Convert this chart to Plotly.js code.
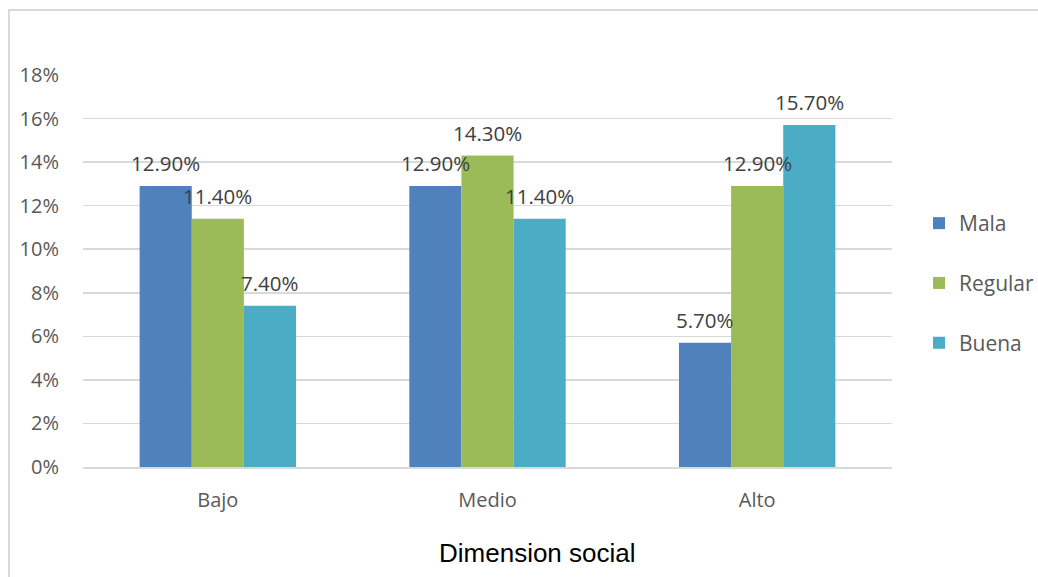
<!DOCTYPE html>
<html>
<head>
<meta charset="utf-8">
<script src="https://cdn.plot.ly/plotly-3.0.1.min.js"></script>
<style>
  html, body { margin: 0; padding: 0; background: #fff; overflow: hidden; }
  #wrap { position: relative; width: 1038px; height: 577px; }
  #chart { position: absolute; left: 0; top: 0; width: 1038px; height: 577px; }
  /* chart frame: left and top edges */
  #frame { position: absolute; left: 8px; top: 9px; right: -10px; bottom: -10px;
           border-left: 2px solid #D9D9D9; border-top: 2px solid #D9D9D9;
           pointer-events: none; }
</style>
</head>
<body>
<div id="wrap">
  <div id="chart"></div>
  <div id="frame"></div>
</div>
<script>
// Dimension social: share of each rating per level
const categories = ['Bajo', 'Medio', 'Alto'];
const seriesNames = ['Mala', 'Regular', 'Buena'];
const mala = [0.129, 0.129, 0.057];
const regular = [0.114, 0.143, 0.129];
const buena = [0.074, 0.114, 0.157];
const yTickVals = [0, 0.02, 0.04, 0.06, 0.08, 0.10, 0.12, 0.14, 0.16, 0.18];
const colors = ['#4F81BD', '#9BBB59', '#4BACC6'];

const W = 1038, H = 577;
const margin = { l: 83, r: 146, t: 75, b: 110, autoexpand: false };
const bargap = 0.42;
const plotW = W - margin.l - margin.r;
const plotH = H - margin.t - margin.b;
const barW = plotW / categories.length * (1 - bargap) / seriesNames.length;

const allSeries = [mala, regular, buena];
const textFont = { family: 'Open Sans, sans-serif', size: 20.5, color: '#404040' };
const tickFont = { family: 'Open Sans, sans-serif', size: 20, color: '#595959' };

const traces = allSeries.map((vals, i) => ({
  type: 'bar',
  name: seriesNames[i],
  x: categories,
  y: vals,
  marker: { color: colors[i], line: { width: 0 } },
  legendgroup: 'g' + i,
  hoverinfo: 'none'
}));

// value labels above each bar
const annotations = [];
allSeries.forEach((vals, i) => {
  vals.forEach((v, j) => {
    annotations.push({
      x: categories[j], y: v, xref: 'x', yref: 'y',
      xshift: (i - 1) * barW, yshift: 23,
      yanchor: 'middle', xanchor: 'center',
      text: (v * 100).toFixed(2) + '%',
      showarrow: false, font: textFont
    });
  });
});

// x axis title
const px = x => (x - margin.l) / plotW;
const py = y => (H - margin.b - y) / plotH;
annotations.push({
  xref: 'paper', yref: 'paper',
  x: px(537), y: py(553),
  xanchor: 'center', yanchor: 'middle',
  text: 'Dimension social', showarrow: false,
  font: { family: 'Liberation Sans, Arial, sans-serif', size: 26, color: '#000' }
});

const layout = {
  width: W, height: H,
  margin: margin,
  paper_bgcolor: 'rgba(0,0,0,0)', plot_bgcolor: 'rgba(0,0,0,0)',
  barmode: 'group', bargap: bargap, bargroupgap: 0,
  font: textFont,
  xaxis: {
    type: 'category',
    showgrid: false, showline: true, linecolor: '#D9D9D9', linewidth: 1.5,
    ticks: '', ticklabelstandoff: 14,
    tickfont: tickFont
  },
  yaxis: {
    range: [0, 0.18], tickvals: yTickVals, tickformat: '.0%',
    showgrid: true, gridcolor: '#D9D9D9', gridwidth: 1.5,
    zeroline: false, showline: false, ticks: '', ticklabelstandoff: 23,
    tickfont: tickFont
  },
  legend: {
    x: px(919), y: py(203), xanchor: 'left', yanchor: 'top',
    traceorder: 'grouped', tracegroupgap: 29.5,
    font: { family: 'Open Sans, sans-serif', size: 21, color: '#595959' },
    bgcolor: 'rgba(0,0,0,0)'
  },
  showlegend: true,
  annotations: annotations
};

Plotly.newPlot('chart', traces, layout, { displayModeBar: false, staticPlot: true });
</script>
</body>
</html>
